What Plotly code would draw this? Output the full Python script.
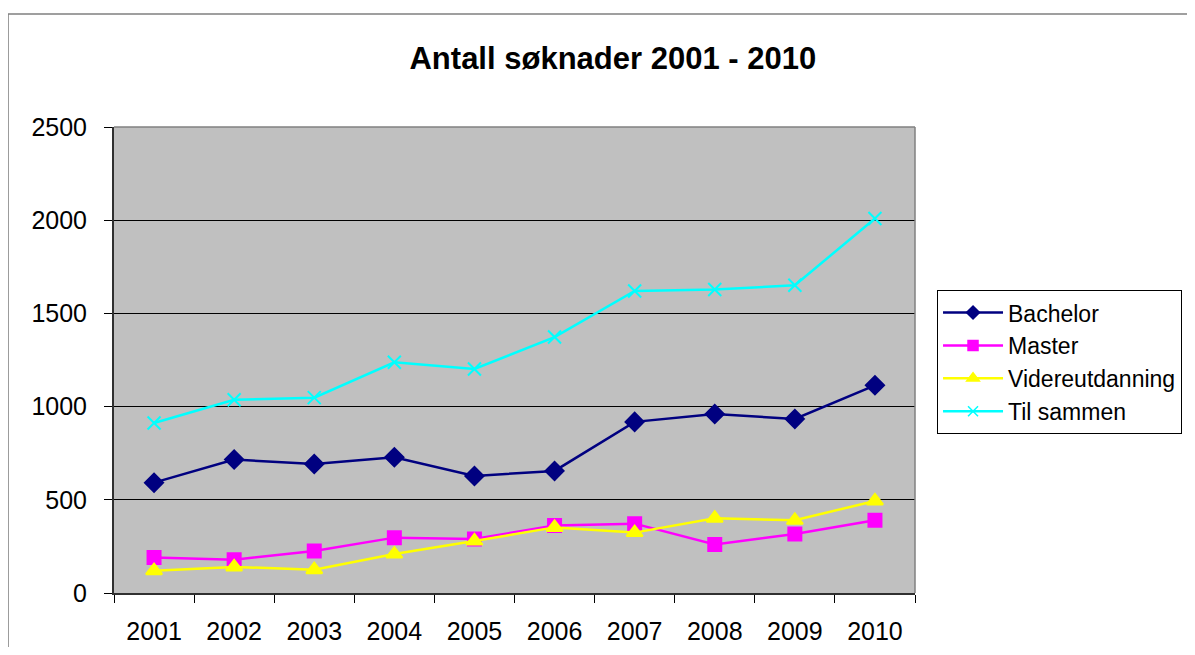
import plotly.graph_objects as go

# data
years = ["2001", "2002", "2003", "2004", "2005", "2006", "2007", "2008", "2009", "2010"]
bachelor = [592, 716, 692, 728, 628, 655, 918, 960, 934, 1114]
master = [191, 179, 225, 297, 290, 362, 372, 260, 317, 390]
videreutdanning = [120, 140, 125, 209, 279, 352, 324, 401, 390, 494]
til_sammen = [912, 1037, 1048, 1238, 1202, 1373, 1620, 1628, 1651, 2009]

font_name = "Arial, Liberation Sans, sans-serif"

fig = go.Figure()
series = [
    ("Bachelor", bachelor, "#000080", "diamond", 14, 10),
    ("Master", master, "#FF00FF", "square", 13, 10),
    ("Videreutdanning", videreutdanning, "#FFFF00", "triangle-up", 14, 11),
    ("Til sammen", til_sammen, "#00FFFF", "x-thin", 13, 10),
]
for name, vals, col, sym, sz, legsz in series:
    fig.add_trace(go.Scatter(
        x=years, y=vals, name=name, mode="lines+markers", legendgroup=name,
        showlegend=False,
        line=dict(color=col, width=2.5),
        marker=dict(symbol=sym, size=sz, color=col, line=dict(color=col, width=2)),
    ))
    # legend entry with the smaller Excel-style marker
    fig.add_trace(go.Scatter(
        x=[None], y=[None], name=name, mode="lines+markers", legendgroup=name,
        line=dict(color=col, width=2.5),
        marker=dict(symbol=sym, size=legsz, color=col, line=dict(color=col, width=1.5)),
    ))

# the page body has an 8px margin, so the figure is laid out 8px up/left
fig.update_layout(
    width=1179, height=639,
    margin=dict(l=106, r=272, t=119, b=54, autoexpand=False),
    paper_bgcolor="white", plot_bgcolor="#C0C0C0",
    font=dict(family=font_name, size=25, color="black"),
    title=dict(text="<b>Antall søknader 2001 - 2010</b>", x=0.513, xref="container",
               xanchor="center", y=1 - 50 / 639, yref="container", yanchor="middle",
               font=dict(size=31, family=font_name, color="black")),
    xaxis=dict(type="category", range=[-0.5, 9.5], tickson="boundaries",
               ticks="outside", ticklen=8, tickcolor="black", showgrid=False,
               showline=True, linecolor="#303030", linewidth=2, zeroline=False,
               ticklabelstandoff=15, automargin=False),
    yaxis=dict(range=[0, 2500], dtick=500, ticks="outside", ticklen=8,
               tickcolor="black", showgrid=True, gridcolor="black", gridwidth=1,
               showline=True, linecolor="#303030", linewidth=2, zeroline=False,
               ticklabelstandoff=12, automargin=False),
    legend=dict(x=1.0275, y=0.650, xanchor="left", yanchor="top",
                bordercolor="black", borderwidth=1, bgcolor="white",
                font=dict(size=23), itemwidth=60, tracegroupgap=0),
    showlegend=True,
    shapes=[
        # outer chart frame
        dict(type="rect", xref="paper", yref="paper", x0=-0.1323, x1=1.5,
             y0=-0.3, y1=1.2425, line=dict(color="#808080", width=1.5), layer="below"),
        # plot area border top/right
        dict(type="line", xref="paper", yref="paper", x0=0, x1=1, y0=1, y1=1,
             line=dict(color="#808080", width=1.5)),
        dict(type="line", xref="paper", yref="paper", x0=1, x1=1, y0=0, y1=1,
             line=dict(color="#808080", width=1.5)),
    ],
)

fig.write_html("out.html")
